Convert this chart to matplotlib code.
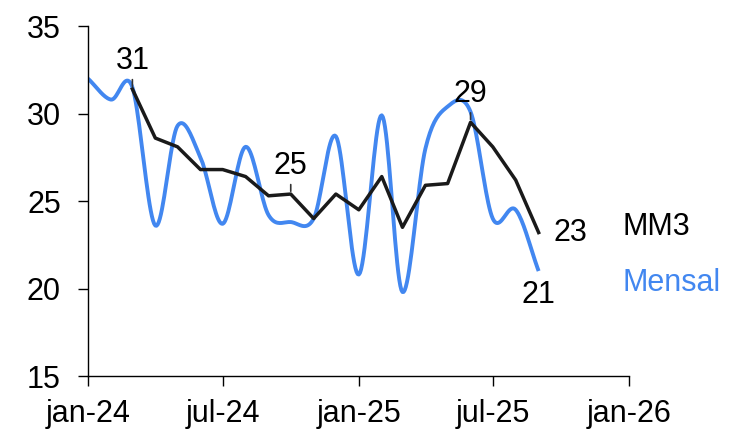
import matplotlib
matplotlib.use('Agg')
import matplotlib.pyplot as plt
import matplotlib.dates as mdates
import numpy as np
import pandas as pd

plt.rcParams['font.family'] = ['Liberation Sans', 'DejaVu Sans']

# data
months = pd.date_range('2024-01-01', '2025-09-01', freq='MS')
mensal = [32.0, 30.8, 31.5, 23.6, 29.3, 27.5, 23.7, 28.1, 24.2, 23.8, 24.0,
          28.7, 20.8, 29.9, 19.8, 28.0, 30.4, 30.1, 24.0, 24.5, 21.0]
mm3_months = months[2:]
mm3 = [31.4, 28.6, 28.1, 26.8, 26.8, 26.4, 25.3, 25.4, 24.0, 25.4, 24.5,
       26.4, 23.5, 25.9, 26.0, 29.5, 28.1, 26.2, 23.2]

PT_MONTHS = {1: 'jan', 7: 'jul'}

BLUE = '#4287f0'
FS = 22


def smooth(xs, ys, n=20):
    # Catmull-Rom curve through the points, like a smoothed spreadsheet line
    xs = np.asarray(xs, float)
    ys = np.asarray(ys, float)
    px = np.concatenate([[2 * xs[0] - xs[1]], xs, [2 * xs[-1] - xs[-2]]])
    py = np.concatenate([[2 * ys[0] - ys[1]], ys, [2 * ys[-1] - ys[-2]]])
    out_x, out_y = [], []
    t = np.linspace(0, 1, n, endpoint=False)
    for i in range(1, len(px) - 2):
        for p, out in ((px, out_x), (py, out_y)):
            p0, p1, p2, p3 = p[i - 1], p[i], p[i + 1], p[i + 2]
            seg = 0.5 * (2 * p1 + (-p0 + p2) * t
                         + (2 * p0 - 5 * p1 + 4 * p2 - p3) * t ** 2
                         + (-p0 + 3 * p1 - 3 * p2 + p3) * t ** 3)
            out.extend(seg)
    out_x.append(xs[-1])
    out_y.append(ys[-1])
    return np.array(out_x), np.array(out_y)


fig = plt.figure(figsize=(7.29, 4.32), dpi=100)
ax = fig.add_axes((0.1207, 0.1296, 0.742, 0.81))

xnum = mdates.date2num(months)
sx, sy = smooth(xnum, mensal)
ax.plot(sx, sy, color=BLUE, lw=2.8, solid_capstyle='butt')
ax.plot(mdates.date2num(mm3_months), mm3, color='#1a1a1a', lw=2.5)

ax.set_ylim(15, 35)
ax.set_yticks([15, 20, 25, 30, 35])
ax.set_xlim(mdates.date2num(pd.Timestamp('2024-01-01')),
            mdates.date2num(pd.Timestamp('2026-01-01')))
ax.xaxis.set_major_locator(mdates.MonthLocator(bymonth=[1, 7]))
ax.xaxis.set_major_formatter(plt.FuncFormatter(
    lambda v, pos: '%s-%s' % (PT_MONTHS[mdates.num2date(v).month],
                              mdates.num2date(v).strftime('%y'))))

for side in ('top', 'right'):
    ax.spines[side].set_visible(False)
for side in ('left', 'bottom'):
    ax.spines[side].set_linewidth(1.0)
ax.tick_params(labelsize=FS, length=7.5, width=1.0, direction='out')
ax.tick_params(axis='y', pad=12)
ax.tick_params(axis='x', pad=9)

# data labels with short leader lines
for i, va in ((0, 31), (7, 25), (15, 29)):
    x = mdates.date2num(mm3_months[i])
    ax.annotate('', xy=(x, mm3[i]), xytext=(x, mm3[i] + 0.7),
                arrowprops=dict(arrowstyle='-', color='#333333', lw=1.2))
    ax.text(x, mm3[i] + 0.75, str(va), ha='center', va='bottom', fontsize=FS)

xe = mdates.date2num(mm3_months[-1])
ax.text(xe + 20, mm3[-1], '23', ha='left', va='center', fontsize=FS)
ax.text(xe, mensal[-1] - 0.5, '21', ha='center', va='top', fontsize=FS)

ax.text(xe + 113, 23.5, 'MM3', ha='left', va='center', fontsize=FS, color='black')
ax.text(xe + 113, 20.3, 'Mensal', ha='left', va='center', fontsize=FS, color=BLUE)

fig.savefig('out.png', dpi=100)
